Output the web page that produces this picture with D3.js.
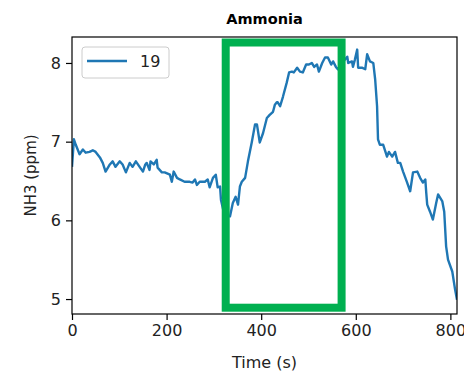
<!DOCTYPE html>
<html>
<head>
<meta charset="utf-8">
<script src="https://cdn.jsdelivr.net/npm/d3@7"></script>
<style>
  body { margin: 0; background: #fff; }
  text { font-family: "DejaVu Sans", sans-serif; }
</style>
</head>
<body>
<div id="chart"></div>
<script>
// time (s) and NH3 (ppm) for sensor 19
const times = [0, 4, 8, 16, 23, 29, 37, 44, 50, 59, 65, 71, 80, 86, 92, 101, 107, 114, 122, 128, 135, 143, 150,
  155, 158, 164, 166, 173, 179, 181, 190, 196, 207, 211, 215, 222, 228, 238, 249, 255, 260, 264, 270, 281, 287,
  291, 298, 304, 308, 313, 315, 321, 327, 334, 340, 346, 351, 355, 359, 366, 372, 380, 387, 391, 397, 404, 412,
  418, 425, 429, 433, 435, 440, 446, 454, 459, 465, 469, 476, 482, 488, 495, 501, 507, 512, 518, 522, 529, 535,
  541, 548, 552, 558, 562, 571, 582, 584, 592, 594, 598, 603, 605, 613, 620, 624, 630, 637, 641, 645, 647, 651,
  658, 666, 670, 677, 683, 689, 694, 700, 708, 715, 721, 730, 736, 742, 747, 749, 751, 757, 763, 770, 774, 783,
  787, 791, 795, 804, 810, 814];
const nh3 = [6.68, 7.03, 6.96, 6.84, 6.90, 6.86, 6.87, 6.89, 6.87, 6.80, 6.73, 6.62, 6.71, 6.75, 6.68, 6.75, 6.71,
  6.61, 6.73, 6.68, 6.75, 6.68, 6.62,
  6.71, 6.73, 6.64, 6.75, 6.71, 6.77, 6.67, 6.61, 6.61, 6.58, 6.49, 6.62, 6.54, 6.52, 6.49, 6.49, 6.48, 6.52,
  6.45, 6.49, 6.49, 6.52, 6.42, 6.54, 6.58, 6.42, 6.43, 6.26, 6.10, 6.05, 6.05, 6.22, 6.30, 6.20, 6.43, 6.49,
  6.54, 6.75, 6.99, 7.22, 7.22, 6.99, 7.11, 7.30, 7.34, 7.38, 7.47, 7.50, 7.50, 7.45, 7.57, 7.75, 7.88, 7.89,
  7.88, 7.94, 7.89, 7.88, 7.98, 7.98, 8.00, 7.95, 7.98, 7.89, 8.00, 8.07, 8.07, 7.98, 8.02, 7.95, 7.92, 8.00,
  8.08, 8.00, 8.02, 7.95, 8.04, 8.17, 7.94, 7.94, 7.92, 8.11, 8.02, 8.00, 7.79, 7.45, 7.03, 6.96, 6.96, 6.81,
  6.87, 6.81, 6.87, 6.73, 6.73, 6.62, 6.49, 6.37, 6.61, 6.62, 6.54, 6.48, 6.52, 6.35, 6.20, 6.11, 6.01, 6.22,
  6.33, 6.24, 6.11, 5.67, 5.50, 5.35, 5.12, 4.99];

const xTicks = [0, 200, 400, 600, 800];
const yTicks = [5, 6, 7, 8];
const xDomain = [0, 814];
const yDomain = [4.81, 8.33];
// highlighted window (green box)
const boxTime = [325, 570];
const boxNh3 = [4.89, 8.26];
const seriesName = '19';

const W = 464, H = 376;
const margin = { top: 37, right: 7, bottom: 62, left: 72 };
const w = W - margin.left - margin.right;
const h = H - margin.top - margin.bottom;

const svg = d3.select('#chart').append('svg').attr('width', W).attr('height', H);
const g = svg.append('g').attr('transform', `translate(${margin.left},${margin.top})`);

const x = d3.scaleLinear().domain(xDomain).range([0, w]);
const y = d3.scaleLinear().domain(yDomain).range([h, 0]);

svg.append('defs').append('clipPath').attr('id', 'clip')
  .append('rect').attr('width', w).attr('height', h);

const pts = times.map((t, i) => [t, nh3[i]]);
g.append('path').datum(pts).attr('clip-path', 'url(#clip)')
  .attr('fill', 'none').attr('stroke', '#1f77b4').attr('stroke-width', 2.4)
  .attr('stroke-linejoin', 'round')
  .attr('d', d3.line().x(d => x(d[0])).y(d => y(d[1])));

g.append('rect')
  .attr('x', x(boxTime[0])).attr('y', y(boxNh3[1]))
  .attr('width', x(boxTime[1]) - x(boxTime[0])).attr('height', y(boxNh3[0]) - y(boxNh3[1]))
  .attr('fill', 'none').attr('stroke', '#00b050').attr('stroke-width', 8);

const xa = g.append('g').attr('transform', `translate(0,${h})`)
  .call(d3.axisBottom(x).tickValues(xTicks).tickSize(6).tickPadding(5).tickSizeOuter(0));
const ya = g.append('g')
  .call(d3.axisLeft(y).tickValues(yTicks).tickFormat(d3.format('d')).tickSize(6).tickPadding(5).tickSizeOuter(0));
[xa, ya].forEach(a => {
  a.select('.domain').remove();
  a.selectAll('line').attr('stroke', '#000').attr('stroke-width', 1.2);
  a.selectAll('text').attr('fill', '#222').style('font-size', '16px');
});

g.append('rect').attr('width', w).attr('height', h)
  .attr('fill', 'none').attr('stroke', '#000').attr('stroke-width', 1.2);

svg.append('text').attr('x', margin.left + w / 2).attr('y', 24).attr('text-anchor', 'middle')
  .style('font-size', '14.5px').style('font-weight', 'bold').text('Ammonia');
svg.append('text').attr('x', margin.left + w / 2).attr('y', 368).attr('text-anchor', 'middle')
  .style('font-size', '16px').attr('fill', '#222').text('Time (s)');
svg.append('text').attr('transform', `translate(36,${margin.top + h / 2}) rotate(-90)`)
  .attr('text-anchor', 'middle').style('font-size', '15px').attr('fill', '#222').text('NH3 (ppm)');

const lg = g.append('g').attr('transform', 'translate(10,10)');
lg.append('rect').attr('width', 87).attr('height', 31).attr('rx', 3)
  .attr('fill', '#fff').attr('fill-opacity', 0.8).attr('stroke', '#ccc');
lg.append('line').attr('x1', 5).attr('x2', 45).attr('y1', 14).attr('y2', 14)
  .attr('stroke', '#1f77b4').attr('stroke-width', 2.4);
lg.append('text').attr('x', 58).attr('y', 20).style('font-size', '16px').attr('fill', '#222').text(seriesName);
</script>
</body>
</html>
